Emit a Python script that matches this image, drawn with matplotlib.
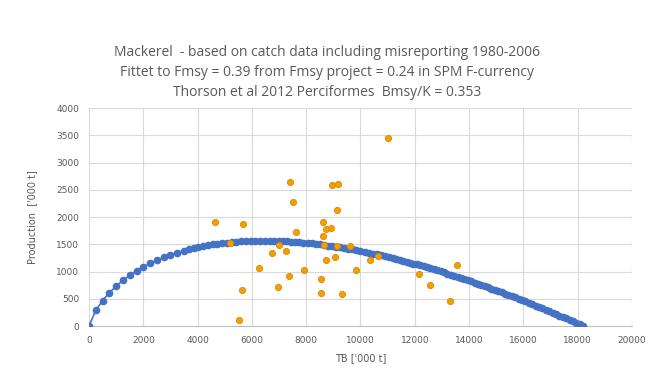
import matplotlib
matplotlib.use("Agg")
import matplotlib.pyplot as plt

# ---- data ----
title_lines = [
    "Mackerel  - based on catch data including misreporting 1980-2006",
    "Fittet to Fmsy = 0.39 from Fmsy project = 0.24 in SPM F-currency",
    "Thorson et al 2012 Perciformes  Bmsy/K = 0.353",
]
x_label = "TB ['000 t]"
y_label = "Production  ['000 t]"
x_ticks = [0, 2000, 4000, 6000, 8000, 10000, 12000, 14000, 16000, 18000, 20000]
y_ticks = [0, 500, 1000, 1500, 2000, 2500, 3000, 3500, 4000]

# fitted surplus-production curve (blue dots)
curve_tb = [0, 250, 500, 750, 1000, 1250, 1500, 1750, 2000, 2250, 2500, 2750, 3000, 3250, 3500,
            3675, 3850, 4025, 4200, 4375, 4550, 4725, 4900, 5075, 5250, 5425, 5600, 5775, 5950,
            6125, 6300, 6475, 6650, 6825, 7000,
            7150, 7300, 7450, 7600, 7750, 7900, 8050, 8200, 8350, 8500, 8650, 8800, 8950, 9100,
            9250, 9400, 9550, 9700, 9850, 10000, 10150, 10300, 10450, 10600, 10750, 10900, 11050,
            11200, 11325, 11450, 11575, 11700, 11825, 11950, 12075, 12200, 12325, 12450, 12575,
            12700, 12825, 12950, 13075, 13200, 13325, 13450, 13575, 13700, 13825, 13950, 14075,
            14200, 14325, 14450, 14575, 14700, 14825, 14950, 15075, 15200, 15325, 15450, 15575,
            15700, 15825, 15950, 16075, 16200, 16325, 16450, 16575, 16700, 16825, 16950, 17075,
            17200, 17325, 17450, 17575, 17700, 17825, 17950, 18075, 18200]
curve_prod = [0, 287, 467, 611, 732, 837, 929, 1011, 1083, 1148, 1206, 1258, 1305, 1346, 1383,
              1407, 1428, 1447, 1465, 1481, 1496, 1509, 1520, 1530, 1539, 1546, 1552, 1557, 1560,
              1563, 1564, 1564, 1563, 1562, 1559,
              1555, 1551, 1547, 1541, 1535, 1529, 1522, 1514, 1505, 1496, 1487, 1476, 1466, 1454,
              1443, 1430, 1417, 1404, 1390, 1376, 1361, 1345, 1329, 1313, 1296, 1279, 1261,
              1243, 1228, 1212, 1196, 1180, 1163, 1146, 1129, 1112, 1094, 1076, 1058,
              1040, 1021, 1002, 983, 963, 943, 923, 903, 883, 862, 841, 820,
              798, 776, 755, 732, 710, 687, 665, 642, 618, 595, 571, 547,
              523, 499, 474, 450, 425, 400, 374, 349, 323, 297, 271, 245,
              218, 192, 165, 138, 111, 83, 56, 28, 0]

# observed catch-based production (orange dots)
obs_tb = [4630, 5193, 5661, 5525, 5647, 6262, 6729, 6961, 6987, 7256, 7355, 7403, 7525, 7612,
          7908, 8533, 8533, 8607, 8607, 8668, 8717, 8742, 8913, 8950, 9072, 9123, 9123, 9160,
          9330, 9624, 9834, 10361, 10633, 11002, 12155, 12560, 13285, 13543]
obs_prod = [1908, 1523, 1866, 105, 661, 1064, 1339, 722, 1481, 1370, 917, 2648, 2270, 1719,
            1034, 856, 600, 1914, 1657, 1481, 1217, 1774, 1792, 2587, 1260, 2128, 1462, 2606,
            593, 1468, 1034, 1217, 1284, 3444, 954, 758, 464, 1125]

# ---- figure ----
text_col = "#595959"
fig = plt.figure(figsize=(6.48, 3.68), dpi=100)
ax = fig.add_axes([89 / 648, 1 - 326 / 368, (632 - 89) / 648, (326 - 108) / 368])

ax.plot(curve_tb, curve_prod, color="#4472C4", lw=1.2, marker="o", ms=4.5,
        markerfacecolor="#4472C4", markeredgecolor="#4472C4", zorder=3)
ax.scatter(obs_tb, obs_prod, s=20, facecolor="#F2A000", edgecolor="#E08600",
           linewidth=0.6, zorder=4)

ax.set_xlim(x_ticks[0], x_ticks[-1])
ax.set_ylim(y_ticks[0], y_ticks[-1])
ax.set_xticks(x_ticks)
ax.set_yticks(y_ticks)
ax.tick_params(length=0, labelsize=6.5, labelcolor=text_col, pad=7)
ax.grid(True, color="#D9D9D9", lw=0.8)
ax.set_axisbelow(True)
for s in ["top", "right", "left"]:
    ax.spines[s].set_visible(False)
ax.spines["bottom"].set_color("#BFBFBF")

ax.set_xlabel(x_label, fontsize=7, color=text_col, labelpad=6)
ax.set_ylabel(y_label, fontsize=7, color=text_col, labelpad=14)

for i, line in enumerate(title_lines):
    fig.text(0.505, 1 - (52 + 20.5 * i) / 368, line, ha="center", va="center",
             fontsize=10, color=text_col, family="Open Sans")

fig.savefig("out.png", dpi=100, facecolor="white")
